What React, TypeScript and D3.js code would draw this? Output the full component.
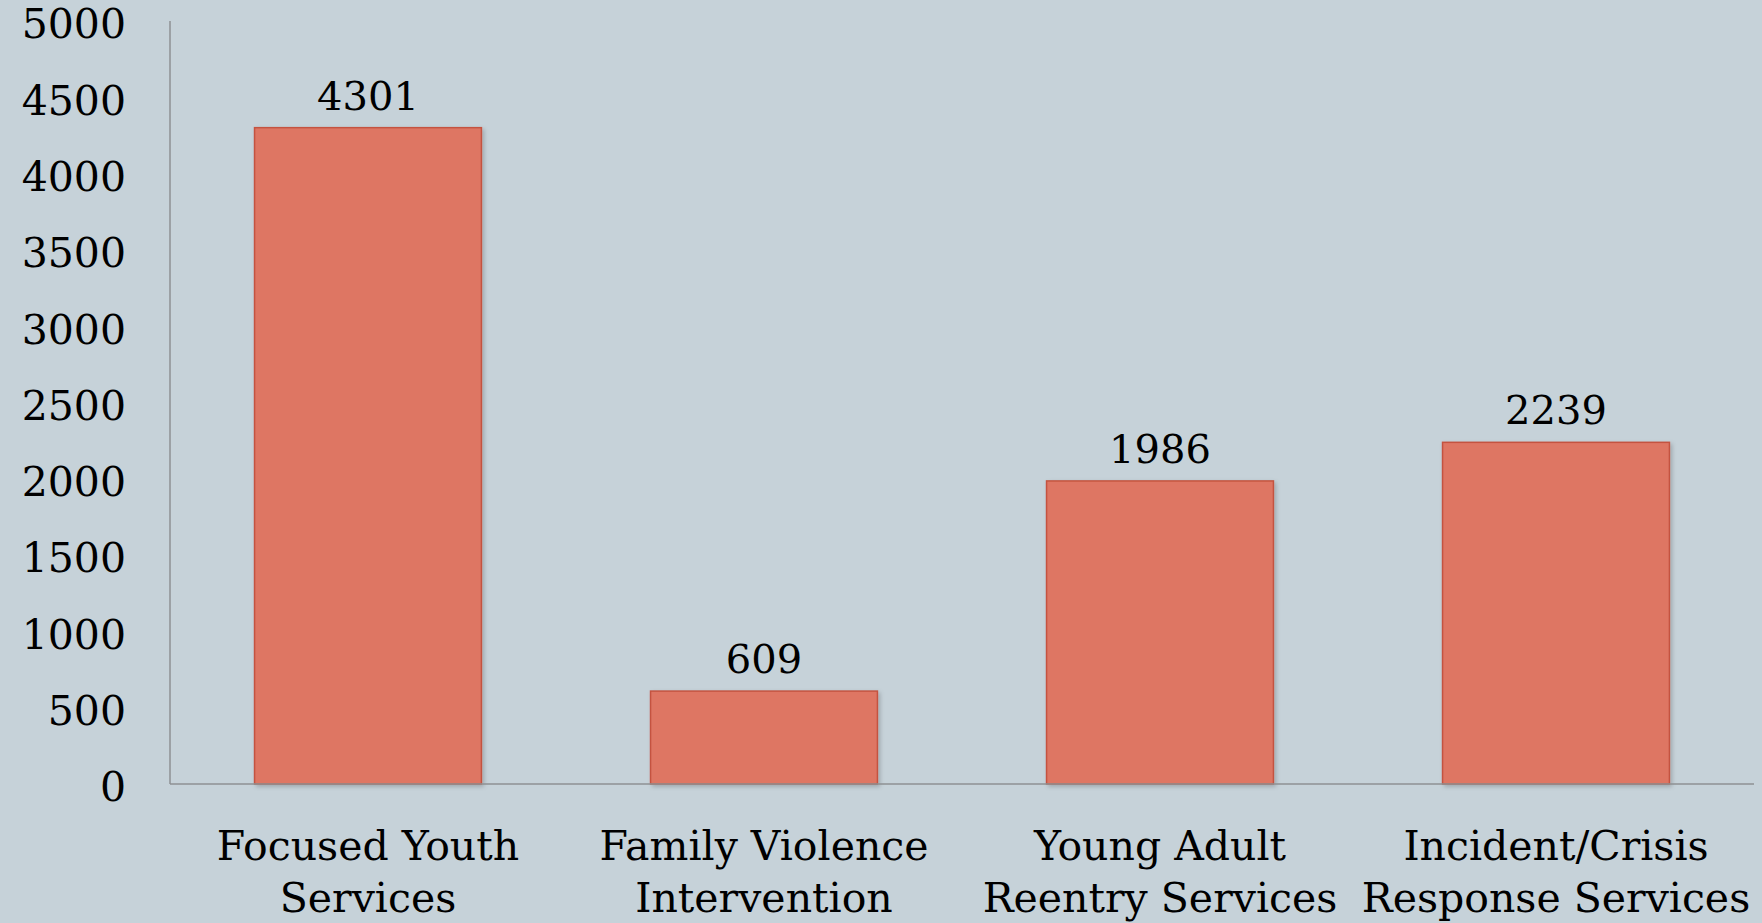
import React from 'react';
import * as d3 from 'd3';

// Chart data
const categories = [
  ['Focused Youth', 'Services'],
  ['Family Violence', 'Intervention'],
  ['Young Adult', 'Reentry Services'],
  ['Incident/Crisis', 'Response Services'],
];
const values = [4301, 609, 1986, 2239];
const yTicks = [0, 500, 1000, 1500, 2000, 2500, 3000, 3500, 4000, 4500, 5000];

const W = 1762;
const H = 923;
const FONT = '"DejaVu Serif", Georgia, serif';

const App = () => {
  // plot area
  const left = 170;
  const right = 1754;
  const top = 21;
  const bottom = 784;

  const x = d3.scaleBand<number>()
    .domain(values.map((_, i) => i))
    .range([left, right])
    .paddingInner(0.427)
    .paddingOuter(0.2135);
  const y = d3.scaleLinear().domain([0, 5000]).range([bottom, top]);

  return (
    <svg width={W} height={H} style={{ position: 'absolute', left: 0, top: 0 }}>
      <defs>
        <filter id="shadow" x="-10%" y="-10%" width="130%" height="130%">
          <feDropShadow dx="2" dy="2" stdDeviation="2" floodColor="#000" floodOpacity="0.2" />
        </filter>
      </defs>
      <rect x={0} y={0} width={W} height={H} fill="#c6d2d9" />

      {/* y axis line + tick labels */}
      <line x1={left} x2={left} y1={top} y2={bottom} stroke="#8e9193" strokeWidth={1.5} />
      {yTicks.map(t => (
        <text key={t} x={126} y={y(t) + 3} dy="0.35em" textAnchor="end"
          fontFamily={FONT} fontSize={41} fill="#000">{t}</text>
      ))}

      {/* bars */}
      {values.map((v, i) => (
        <rect key={i} x={x(i)} y={y(v)} width={x.bandwidth()} height={y(0) - y(v)}
          fill="#de7664" stroke="#c4533f" strokeWidth={1.5} filter="url(#shadow)" />
      ))}

      {/* x axis line */}
      <line x1={left} x2={right} y1={bottom} y2={bottom} stroke="#8e9193" strokeWidth={1.5} />

      {/* value labels */}
      {values.map((v, i) => (
        <text key={i} x={x(i)! + x.bandwidth() / 2} y={y(v) - 18} textAnchor="middle"
          fontFamily={FONT} fontSize={40} fill="#000">{v}</text>
      ))}

      {/* category labels */}
      {categories.map((lines, i) => (
        <text key={i} textAnchor="middle" fontFamily={FONT} fontSize={41} fill="#000">
          {lines.map((l, j) => (
            <tspan key={j} x={x(i)! + x.bandwidth() / 2} y={860 + j * 52}>{l}</tspan>
          ))}
        </text>
      ))}
    </svg>
  );
};

export default App;
